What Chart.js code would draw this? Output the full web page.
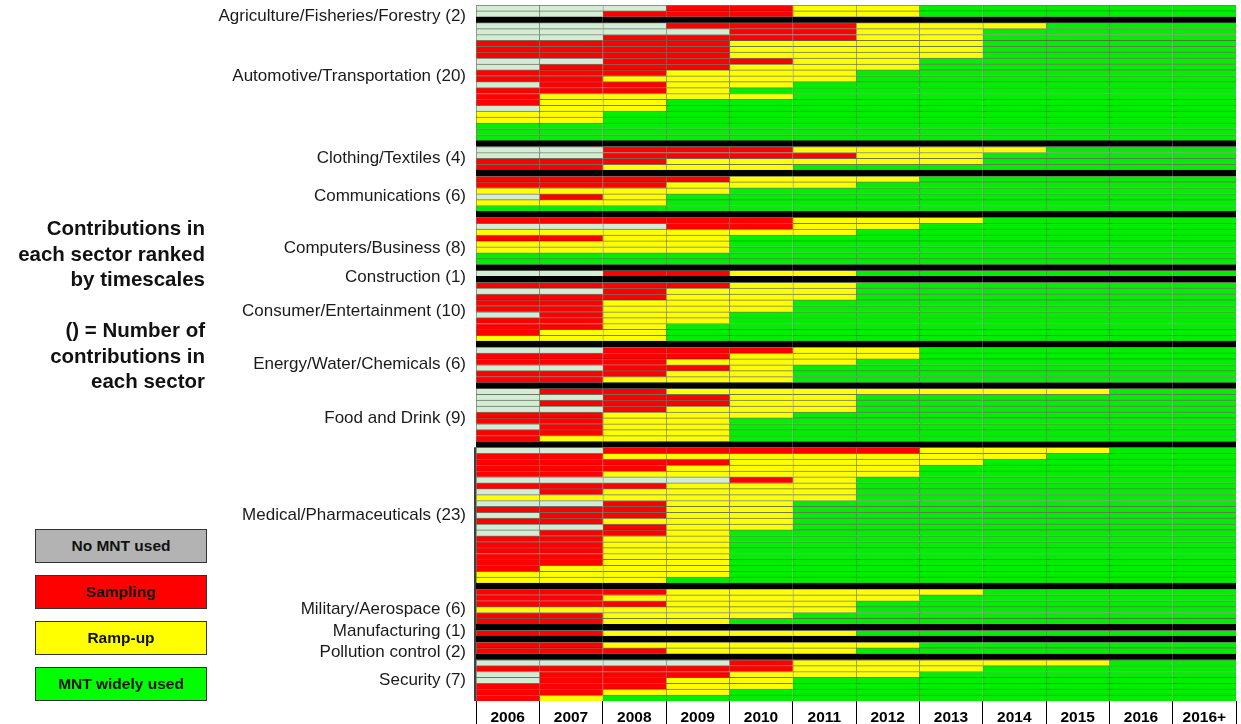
<!DOCTYPE html>
<html>
<head>
<meta charset="utf-8">
<script src="https://cdn.jsdelivr.net/npm/chart.js@4.4.1/dist/chart.umd.min.js"></script>
<style>
  body { margin: 0; background: #fff; }
  #wrap { position: relative; width: 1241px; height: 724px; font-family: "Liberation Sans", Arial, sans-serif; }
  #title { position: absolute; right: 1036px; top: 215px; width: 260px; text-align: right;
           font-weight: bold; font-size: 20.5px; line-height: 25.5px; color: #111; }
  .key { position: absolute; left: 35px; width: 170px; height: 32px; border: 1px solid #333;
         text-align: center; font-weight: bold; font-size: 15.5px; line-height: 32px; color: #111; }
</style>
</head>
<body>
<div id="wrap">
  <canvas id="chart" width="1241" height="724"></canvas>
  <div id="title">Contributions in<br>each sector ranked<br>by timescales<br><br>() = Number of<br>contributions in<br>each sector</div>
  <div class="key" style="top:529px;background:#b3b3b3">No MNT used</div>
  <div class="key" style="top:575px;background:#ff0000">Sampling</div>
  <div class="key" style="top:621px;background:#ffff00">Ramp-up</div>
  <div class="key" style="top:667px;background:#00ff00">MNT widely used</div>
</div>
<script>
// one string per contribution, one digit per year column
// 0 = no MNT used, 1 = sampling, 2 = ramp-up, 3 = MNT widely used
var years = ["2006", "2007", "2008", "2009", "2010", "2011", "2012", "2013", "2014", "2015", "2016", "2016+"];

var agriculture = ['000112233333', '001112233333'];
var automotive = [
    '000111222333', '000011223333', '001111223333', '111122223333', '111122223333',
    '111122223333', '001112233333', '011122233333', '111222333333', '112222333333',
    '011223333333', '111233333333', '122223333333', '122333333333', '022333333333',
    '223333333333', '223333333333', '333333333333', '333333333333', '333333333333'
];
var clothing = ['001112222333', '001111223333', '111222223333', '112223333333'];
var communications = ['111122233333', '111222333333', '222233333333', '012333333333', '222333333333', '333333333333'];
var computers = ['111112223333', '000112233333', '222222333333', '112233333333', '222233333333', '222233333333', '333333333333', '333333333333'];
var construction = ['001122333333'];
var consumer = [
    '111122333333', '001222333333', '111222333333', '112223333333', '112223333333',
    '012233333333', '112233333333', '112333333333', '122333333333', '222333333333'
];
var energy = ['001112233333', '111122233333', '111222333333', '001123333333', '111223333333', '112223333333'];
var food = [
    '011222222233', '001122333333', '011122333333', '001222333333', '112223333333',
    '112233333333', '012233333333', '112233333333', '122233333333'
];
var medical = [
    '001111122233', '112222222333', '111122223333', '111222233333', '112222233333',
    '000012333333', '111222333333', '012222333333', '222222333333', '001223333333',
    '111223333333', '011223333333', '112223333333', '001223333333', '011233333333',
    '112233333333', '112233333333', '112233333333', '112233333333', '112233333333',
    '122233333333', '222233333333', '222333333333'
];
var military = ['111222223333', '112222233333', '111222333333', '222222333333', '112223333333', '112233333333'];
var manufacturing = ['112222333333'];
var pollution = ['112222233333', '111222333333'];
var security = ['000012222233', '111112223333', '011122233333', '011223333333', '111223333333', '112233333333', '123333333333'];

var sectorNames = [
    "Agriculture/Fisheries/Forestry", "Automotive/Transportation", "Clothing/Textiles", "Communications",
    "Computers/Business", "Construction", "Consumer/Entertainment", "Energy/Water/Chemicals",
    "Food and Drink", "Medical/Pharmaceuticals", "Military/Aerospace", "Manufacturing",
    "Pollution control", "Security"
];
var sectorRows = [agriculture, automotive, clothing, communications, computers, construction, consumer,
    energy, food, medical, military, manufacturing, pollution, security];

var stateColors = ['#d2ecd5', '#ff0000', '#ffff00', '#00ee00'];

// flatten into slots, with a black separator row between sectors
var slots = [];
var sectorSpans = [];
sectorRows.forEach(function (rows, s) {
    var start = slots.length;
    rows.forEach(function (code) { slots.push({ code: code }); });
    sectorSpans.push({ name: sectorNames[s] + ' (' + rows.length + ')', start: start, end: slots.length - 1 });
    if (s < sectorRows.length - 1) slots.push({ sep: true });
});

var datasets = years.map(function (yr, j) {
    return {
        label: yr,
        data: slots.map(function () { return 1; }),
        backgroundColor: slots.map(function (sl) { return sl.sep ? '#000' : stateColors[+sl.code[j]]; }),
        borderColor: slots.map(function (sl) { return sl.sep ? '#000' : 'rgba(20,30,0,0.6)'; }),
        borderWidth: { top: 1, left: 1, right: 0, bottom: 0 },
        borderSkipped: false,
        barPercentage: 1,
        categoryPercentage: 1
    };
});

// small vertical shifts so the names sit like in the original slide
var labelShift = { 0: 5, 1: -5, 3: 3, 4: 7, 5: 4, 8: 3, 10: 3, 11: -2, 12: 4 };

var sectorLabels = {
    id: 'sectorLabels',
    afterDraw: function (chart) {
        var ctx = chart.ctx, y = chart.scales.y, area = chart.chartArea;
        ctx.save();
        ctx.font = '17px "Liberation Sans", Arial, sans-serif';
        ctx.fillStyle = '#1a1a1a';
        ctx.textAlign = 'right';
        ctx.textBaseline = 'middle';
        sectorSpans.forEach(function (sp, i) {
            var mid = (y.getPixelForValue(sp.start) + y.getPixelForValue(sp.end)) / 2 + (labelShift[i] || 0);
            ctx.fillText(sp.name, area.left - 10, mid);
        });
        // left edge line from the medical block down
        var med = sectorSpans[9];
        var top = y.getPixelForValue(med.start) - (y.getPixelForValue(1) - y.getPixelForValue(0)) / 2;
        ctx.strokeStyle = '#000';
        ctx.lineWidth = 1.5;
        ctx.beginPath();
        ctx.moveTo(area.left - 1, top);
        ctx.lineTo(area.left - 1, area.bottom);
        ctx.stroke();
        ctx.restore();
    }
};

var chart = new Chart(document.getElementById('chart').getContext('2d'), {
    type: 'bar',
    data: {
        labels: slots.map(function (sl, i) { return i; }),
        datasets: datasets
    },
    options: {
        indexAxis: 'y',
        responsive: false,
        animation: false,
        layout: { padding: { left: 476, right: 5, top: 5, bottom: 0 } },
        plugins: {
            legend: { display: false },
            tooltip: { enabled: false }
        },
        scales: {
            y: {
                stacked: true,
                display: false
            },
            x: {
                stacked: true,
                min: 0,
                max: 12,
                afterBuildTicks: function (axis) {
                    axis.ticks = years.map(function (yr, i) { return { value: i + 0.5 }; });
                },
                afterFit: function (axis) { axis.height = 23; },
                border: { display: false },
                grid: { offset: true, drawOnChartArea: false, drawTicks: true, tickLength: 24, color: '#000', lineWidth: 1 },
                ticks: {
                    autoSkip: false,
                    maxRotation: 0,
                    padding: -17,
                    color: '#000',
                    font: { family: '"Liberation Sans", Arial, sans-serif', size: 15.5, weight: 'bold' },
                    callback: function (v, i) { return years[i]; }
                }
            }
        }
    },
    plugins: [sectorLabels]
});
</script>
</body>
</html>
